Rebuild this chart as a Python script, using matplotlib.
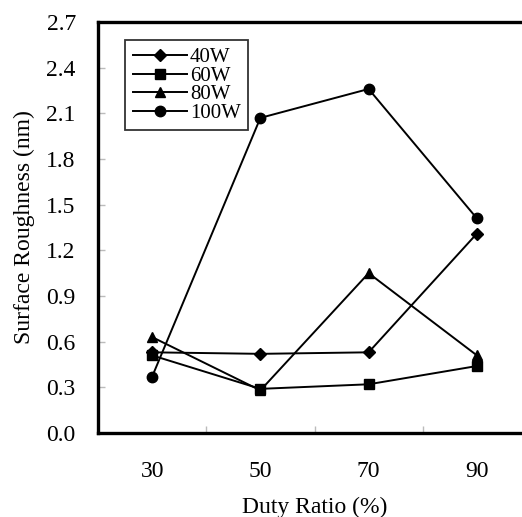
# %% IMPORTS
import matplotlib.pyplot as plt
import numpy as np

plt.rcParams['font.family'] = ['Liberation Serif', 'DejaVu Serif']
plt.rcParams['font.size'] = 17

# %% DATA
duty_ratio = ['30', '50', '70', '90']
rough_40w = [0.53, 0.52, 0.53, 1.31]
rough_60w = [0.51, 0.29, 0.32, 0.44]
rough_80w = [0.63, 0.28, 1.05, 0.51]
rough_100w = [0.37, 2.07, 2.26, 1.41]
y_ticks = [0.0, 0.3, 0.6, 0.9, 1.2, 1.5, 1.8, 2.1, 2.4, 2.7]

# %% PLOT
fig = plt.figure(figsize=(5.22, 5.17), dpi=100)
# axes run past the right edge of the figure
ax = fig.add_axes([98 / 522, 84 / 517, 433 / 522, 411 / 517])

x = np.arange(len(duty_ratio))
line_kw = dict(color='black', linewidth=1.4, clip_on=False)
ax.plot(x, rough_40w, marker='D', markersize=6.5, label='40W', **line_kw)
ax.plot(x, rough_60w, marker='s', markersize=7, label='60W', **line_kw)
ax.plot(x, rough_80w, marker='^', markersize=7.5, label='80W', **line_kw)
ax.plot(x, rough_100w, marker='o', markersize=7.5, label='100W', **line_kw)

ax.set_xlim(-0.5, 3.5)
ax.set_ylim(0, 2.7)

# category labels in the middle, tick marks between categories
ax.set_xticks(x + 0.5)
ax.set_xticklabels([])
ax.set_xticks(x, minor=True)
ax.set_xticklabels(duty_ratio, minor=True)
ax.tick_params(axis='x', which='major', direction='in', length=5,
               color='#bbbbbb', width=1)
ax.tick_params(axis='x', which='minor', length=0, pad=20)

ax.set_yticks(y_ticks)
ax.set_yticklabels([f'{v:.1f}' for v in y_ticks])
ax.tick_params(axis='y', direction='in', length=5, color='#bbbbbb',
               width=1, pad=16)

for side in ['left', 'bottom', 'top', 'right']:
    ax.spines[side].set_linewidth(2.4)

ax.set_xlabel('Duty Ratio (%)', labelpad=11)
ax.set_ylabel('Surface Roughness (nm)', labelpad=8)

leg = ax.legend(loc='upper left', bbox_to_anchor=(0.063, 0.955),
                frameon=True, fancybox=False, edgecolor='black',
                handlelength=2.6, handletextpad=0.15, labelspacing=-0.05,
                borderpad=0.35, borderaxespad=0, fontsize=15)
leg.get_frame().set_linewidth(1.3)

plt.savefig('out.png', dpi=100)
